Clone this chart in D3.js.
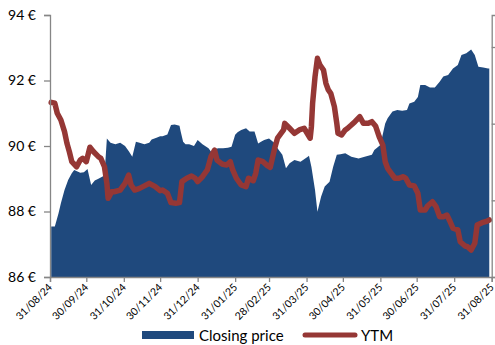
<!DOCTYPE html>
<html>
<head>
<meta charset="utf-8">
<script src="https://cdn.jsdelivr.net/npm/d3@7"></script>
<style>
  html, body { margin: 0; padding: 0; background: #fff; }
  svg { display: block; }
  text { font-family: Lato, "Open Sans", sans-serif; fill: #000; }
</style>
</head>
<body>
<svg id="chart" width="495" height="345"></svg>
<script>
// ---- data ----
const xTickLabels = ["31/08/24","30/09/24","31/10/24","30/11/24","31/12/24","31/01/25","28/02/25","31/03/25","30/04/25","31/05/25","30/06/25","31/07/25","31/08/25"];
const priceTicks = [86, 88, 90, 92, 94];
const ytmTicks = [2.0, 2.5, 3.0, 3.5];

const priceDates = ["2024-09-01","2024-09-04","2024-09-07","2024-09-09","2024-09-12","2024-09-15","2024-09-18","2024-09-20","2024-09-25","2024-09-28",
"2024-10-01","2024-10-04","2024-10-07","2024-10-10","2024-10-15","2024-10-17","2024-10-20","2024-10-24","2024-10-28","2024-11-01",
"2024-11-04","2024-11-07","2024-11-10","2024-11-13","2024-11-17","2024-11-21","2024-11-23","2024-11-27","2024-11-30","2024-12-02",
"2024-12-06","2024-12-09","2024-12-12","2024-12-16","2024-12-17","2024-12-19","2024-12-21","2024-12-24","2024-12-28","2024-12-31",
"2025-01-04","2025-01-09","2025-01-11","2025-01-14","2025-01-17","2025-01-21","2025-01-25","2025-01-28","2025-01-31","2025-02-02",
"2025-02-05","2025-02-09","2025-02-12","2025-02-16","2025-02-19","2025-02-21","2025-02-24","2025-02-28","2025-03-05","2025-03-07",
"2025-03-11","2025-03-14","2025-03-17","2025-03-21","2025-03-26","2025-04-01","2025-04-02","2025-04-04","2025-04-07","2025-04-09",
"2025-04-12","2025-04-15","2025-04-19","2025-04-22","2025-04-25","2025-04-28","2025-05-02","2025-05-07","2025-05-13","2025-05-18",
"2025-05-24","2025-05-26","2025-05-31","2025-06-04","2025-06-06","2025-06-10","2025-06-14","2025-06-18","2025-06-22","2025-06-24",
"2025-06-28","2025-07-01","2025-07-03","2025-07-07","2025-07-11","2025-07-15","2025-07-19","2025-07-22","2025-07-26","2025-07-30",
"2025-08-03","2025-08-06","2025-08-10","2025-08-14","2025-08-17","2025-08-20","2025-08-24","2025-08-28","2025-08-29"];
const priceValues = [87.54,87.54,87.94,88.25,88.66,88.96,89.17,89.27,89.18,89.2,
89.3,88.81,88.95,89.0,89.1,90.23,90.1,90.05,90.1,90.0,
89.85,89.67,90.13,90.1,90.05,90.1,90.2,90.25,90.3,90.3,
90.35,90.64,90.66,90.62,90.44,90.13,90.05,90.05,90.0,90.18,
90.05,89.93,89.83,89.9,89.93,89.93,89.95,89.98,90.34,90.42,
90.49,90.54,90.44,90.44,90.08,90.12,90.18,90.23,90.08,89.93,
89.73,89.32,89.47,89.57,89.52,89.67,89.7,89.37,88.66,87.99,
88.45,88.76,88.91,89.37,89.73,89.75,89.78,89.67,89.62,89.67,
89.73,89.88,90.03,90.69,90.85,91.05,91.1,91.08,91.1,91.3,
91.35,91.5,91.86,91.86,91.79,91.79,91.96,92.12,92.17,92.37,
92.47,92.78,92.83,92.95,92.78,92.42,92.4,92.37,92.37];

const ytmDates = ["2024-09-01","2024-09-04","2024-09-06","2024-09-09","2024-09-12","2024-09-14","2024-09-16","2024-09-18","2024-09-22","2024-09-25",
"2024-09-27","2024-09-30","2024-10-03","2024-10-06","2024-10-10","2024-10-12","2024-10-15","2024-10-17","2024-10-18","2024-10-21",
"2024-10-23","2024-10-28","2024-10-30","2024-11-01","2024-11-04","2024-11-06","2024-11-09","2024-11-13","2024-11-17","2024-11-21",
"2024-11-26","2024-11-30","2024-12-02","2024-12-06","2024-12-09","2024-12-13","2024-12-16","2024-12-18","2024-12-22","2024-12-26",
"2024-12-29","2024-12-31","2025-01-04","2025-01-08","2025-01-11","2025-01-14","2025-01-16","2025-01-20","2025-01-24","2025-01-27",
"2025-01-29","2025-02-01","2025-02-05","2025-02-09","2025-02-11","2025-02-15","2025-02-17","2025-02-19","2025-02-23","2025-02-26",
"2025-03-01","2025-03-05","2025-03-07","2025-03-12","2025-03-13","2025-03-17","2025-03-21","2025-03-25","2025-03-29","2025-04-03",
"2025-04-04","2025-04-05","2025-04-07","2025-04-09","2025-04-11","2025-04-14","2025-04-16","2025-04-18","2025-04-20","2025-04-23",
"2025-04-25","2025-04-26","2025-04-29","2025-05-02","2025-05-04","2025-05-07","2025-05-10","2025-05-14","2025-05-17","2025-05-21",
"2025-05-24","2025-05-27","2025-05-30","2025-06-02","2025-06-04","2025-06-06","2025-06-09","2025-06-12","2025-06-15","2025-06-19",
"2025-06-21","2025-06-24","2025-06-28","2025-07-01","2025-07-03","2025-07-07","2025-07-09","2025-07-13","2025-07-16","2025-07-19",
"2025-07-22","2025-07-25","2025-07-27","2025-07-30","2025-08-03","2025-08-05","2025-08-09","2025-08-11","2025-08-14","2025-08-17",
"2025-08-19","2025-08-23","2025-08-26","2025-08-29"];
const ytmValues = [3.139,3.133,3.068,3.024,2.948,2.872,2.817,2.752,2.719,2.763,
2.774,2.752,2.846,2.817,2.785,2.774,2.719,2.611,2.513,2.556,
2.556,2.567,2.589,2.611,2.665,2.600,2.567,2.578,2.594,2.611,
2.589,2.563,2.567,2.546,2.485,2.481,2.485,2.622,2.644,2.659,
2.644,2.622,2.654,2.698,2.785,2.828,2.763,2.737,2.730,2.752,
2.698,2.644,2.600,2.589,2.644,2.628,2.676,2.763,2.752,2.730,
2.715,2.850,2.905,2.959,3.002,2.970,2.937,2.959,2.970,2.905,
2.980,3.133,3.306,3.426,3.383,3.350,3.263,3.220,3.198,3.111,
3.002,2.937,2.926,2.959,2.970,2.991,3.013,3.045,3.002,3.002,
3.013,2.985,2.915,2.861,2.752,2.709,2.676,2.644,2.644,2.654,
2.644,2.600,2.594,2.546,2.437,2.437,2.463,2.491,2.459,2.393,
2.393,2.404,2.372,2.318,2.307,2.230,2.202,2.198,2.176,2.220,
2.339,2.354,2.361,2.372];

// ---- chart ----
const parse = d3.timeParse("%Y-%m-%d");
const parseTick = d3.timeParse("%d/%m/%y");
const fmtTick = d3.timeFormat("%d/%m/%y");

const mLeft = 50, mRight = 491.7, mTop = 15, mBottom = 277;
const svg = d3.select("#chart");

const x = d3.scaleTime().domain([parseTick("31/08/24"), parseTick("31/08/25")]).range([mLeft, mRight]);
const y = d3.scaleLinear().domain([86, 94]).range([mBottom, mTop]);
const y2 = d3.scaleLinear().domain([2.0, 3.7087]).range([mBottom, mTop]);

const price = priceDates.map((d, i) => ({ date: parse(d), v: priceValues[i] }));
const ytm = ytmDates.map((d, i) => ({ date: parse(d), v: ytmValues[i] }));

const blue = "#1F497D", red = "#953735", axisCol = "#868686";

svg.append("path")
  .datum(price)
  .attr("fill", blue)
  .attr("d", d3.area().x(d => x(d.date)).y0(y(86)).y1(d => y(d.v)));

svg.append("path")
  .datum(ytm)
  .attr("fill", "none")
  .attr("stroke", red)
  .attr("stroke-width", 5.5)
  .attr("stroke-linejoin", "round")
  .attr("stroke-linecap", "round")
  .attr("d", d3.line().x(d => x(d.date)).y(d => y2(d.v)));

// left axis
const gl = svg.append("g").attr("transform", `translate(${mLeft},0)`)
  .call(d3.axisLeft(y).tickValues(priceTicks).tickSize(6).tickPadding(8).tickFormat(d => d + " €"));
gl.select(".domain").attr("stroke", axisCol).attr("stroke-width", 1.3);
gl.selectAll(".tick line").attr("stroke", axisCol).attr("stroke-width", 1.3);
gl.selectAll(".tick text").style("font-size", "14px").style("font-family", "Lato, sans-serif").attr("fill", "#000");

// right (secondary) axis: its labels lie beyond the frame in the reference, so none are drawn
const gr = svg.append("g").attr("transform", `translate(${mRight},0)`)
  .call(d3.axisRight(y2).tickValues(ytmTicks).tickSize(5).tickFormat(""));
gr.select(".domain").attr("stroke", axisCol).attr("stroke-width", 1.3);
gr.selectAll(".tick line").attr("stroke", axisCol).attr("stroke-width", 1.3);

// bottom axis
const gb = svg.append("g").attr("transform", `translate(0,${mBottom})`)
  .call(d3.axisBottom(x).tickValues(xTickLabels.map(parseTick)).tickSize(5).tickFormat(fmtTick));
gb.select(".domain").attr("stroke", axisCol).attr("stroke-width", 1.3);
gb.selectAll(".tick line").attr("stroke", axisCol).attr("stroke-width", 1.3);
gb.selectAll(".tick text")
  .style("font-size", "10.5px")
  .style("font-family", "Lato, sans-serif")
  .attr("fill", "#000")
  .attr("text-anchor", "end")
  .attr("dy", null)
  .attr("y", 0)
  .attr("transform", "translate(0.5,9) rotate(-45)")
  .attr("dominant-baseline", "middle");

// legend
const lg = svg.append("g");
lg.append("rect").attr("x", 142).attr("y", 331).attr("width", 52).attr("height", 8).attr("fill", blue);
lg.append("text").attr("x", 199).attr("y", 335).attr("dominant-baseline", "central")
  .style("font-size", "15px").text("Closing price");
lg.append("line").attr("x1", 305).attr("x2", 355).attr("y1", 335).attr("y2", 335)
  .attr("stroke", red).attr("stroke-width", 5).attr("stroke-linecap", "round");
lg.append("text").attr("x", 361).attr("y", 335).attr("dominant-baseline", "central")
  .style("font-size", "15px").text("YTM");
</script>
</body>
</html>
